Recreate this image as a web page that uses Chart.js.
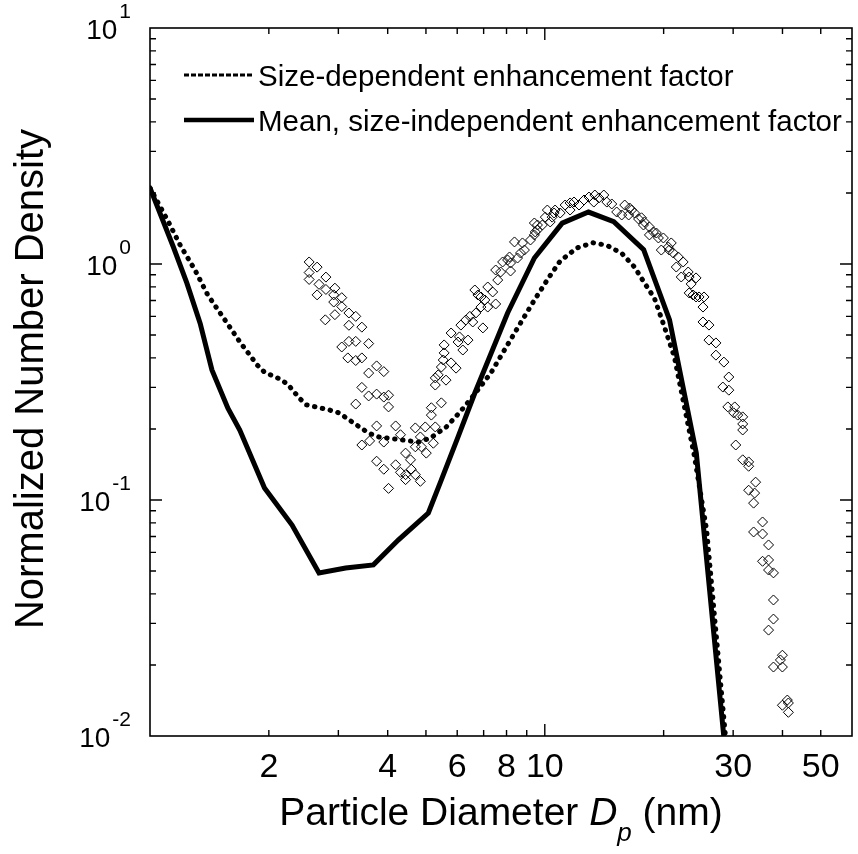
<!DOCTYPE html>
<html>
<head>
<meta charset="utf-8">
<script src="https://cdn.jsdelivr.net/npm/chart.js@4.4.1/dist/chart.umd.min.js"></script>
<style>
  html, body { margin: 0; padding: 0; background: #fff; }
  canvas { display: block; }
</style>
</head>
<body>
<canvas id="chart" width="858" height="854"></canvas>
<script>
const FONT = '"Liberation Sans", Arial, Helvetica, sans-serif';

// Size-dependent enhancement factor (dotted curve)
const sizeDepDiameters = [1.0, 1.113, 1.193, 1.30, 1.40, 1.53, 1.69, 1.87, 1.95, 2.13,
  2.23, 2.39, 2.49, 2.84, 3.01, 3.28, 3.58, 3.80, 4.78, 5.13,
  5.63, 6.10, 6.62, 7.30, 7.96, 8.68, 9.41, 10.26, 10.94, 12.07,
  13.24, 14.35, 15.66, 16.88, 17.89, 18.95, 20.1, 21.3, 23.9, 25.7,
  28.7, 29.2];
const sizeDepDensity = [2.1, 1.51, 1.20, 0.943, 0.74, 0.596, 0.467, 0.373, 0.348, 0.326,
  0.310, 0.270, 0.253, 0.241, 0.234, 0.212, 0.192, 0.185, 0.176, 0.183,
  0.204, 0.236, 0.279, 0.345, 0.441, 0.562, 0.703, 0.881, 1.03, 1.17,
  1.23, 1.20, 1.11, 0.97, 0.83, 0.717, 0.54, 0.403, 0.155, 0.0747,
  0.0099, 0.0079];

// Mean, size-independent enhancement factor (solid curve)
const meanDiameters = [1.0, 1.146, 1.24, 1.34, 1.435, 1.575, 1.688, 1.95, 2.29, 2.68,
  3.13, 3.68, 4.26, 5.07, 5.47, 6.03, 6.65, 8.05, 9.41, 11.07,
  12.9, 14.95, 17.8, 20.7, 24.2, 28.4, 29.4];
const meanDensity = [2.1, 1.18, 0.83, 0.56, 0.356, 0.245, 0.198, 0.1125, 0.0783, 0.0491,
  0.0515, 0.0531, 0.0678, 0.0881, 0.1216, 0.185, 0.284, 0.62, 1.06, 1.49,
  1.66, 1.51, 1.15, 0.58, 0.158, 0.0100, 0.0068];

// measured distribution (open diamonds)
const measuredDiameters = [
  2.53, 2.65, 2.53, 2.79, 2.53, 2.68, 2.79, 2.94, 2.65, 2.92,
  3.06, 2.92, 3.06, 3.19, 3.32, 2.78, 2.94, 3.19, 3.44, 3.19,
  3.32, 3.06, 3.58, 3.17, 3.32, 3.44, 3.58, 3.75, 3.91, 3.44,
  3.58, 3.75, 3.91, 4.02, 4.02, 3.32, 3.75, 4.19, 3.44, 3.60,
  3.91, 4.31, 3.75, 3.91, 4.19, 4.44, 4.02, 4.31, 4.44, 4.57,
  4.59, 4.44, 4.70, 4.84, 4.70, 4.84, 4.98, 5.28, 4.87, 4.70,
  5.01, 5.22, 5.16, 5.16, 5.47,
  5.28, 5.37, 5.28, 5.62, 5.47, 5.53, 5.79, 5.96, 5.56, 5.79,
  6.03, 5.56, 6.08, 6.39, 6.20, 6.13, 6.31, 6.46, 6.69, 6.57,
  6.97, 6.89, 6.65, 6.89, 7.17, 7.51, 7.17, 7.60, 7.73, 7.51,
  7.82, 8.14, 8.38, 8.05, 8.53, 8.88, 8.78, 9.20, 9.41, 9.46,
  9.86, 10.03, 6.77, 7.05, 7.38, 8.19, 8.68, 9.41, 9.58, 10.32, 8.19,
  9.58, 10.15, 10.44, 10.56, 10.62, 10.94, 11.26, 11.59, 11.59, 11.86,
  12.21, 12.57, 12.94, 13.31, 13.39, 13.71, 14.11, 14.36, 14.78, 15.21,
  15.66, 15.94, 16.40, 16.31, 16.59, 16.88, 17.28, 17.58, 17.88, 17.78,
  18.41, 18.41, 18.84, 19.17, 19.40, 19.97, 19.73, 20.55, 20.91, 20.67,
  21.16, 21.78, 21.53, 22.41, 22.16, 23.08, 23.21, 23.48, 24.16, 23.21,
  23.75, 24.16, 24.59, 25.31, 25.16, 25.16, 26.05, 26.05, 27.13, 27.13,
  28.42, 29.25, 28.25, 29.25, 29.08, 30.28, 30.10, 30.81, 31.72, 31.72,
  31.72, 30.46, 31.72, 32.84, 32.84, 34.20, 32.84, 34.0, 33.80, 35.61,
  33.80, 35.61, 36.88, 35.61, 36.88, 36.88, 37.95, 37.95, 37.95, 36.88,
  39.98, 39.52, 37.95, 39.98, 41.15, 39.98, 41.4, 41.4
];
const measuredDensity = [
  1.02, 0.97, 0.92, 0.88, 0.86, 0.82, 0.78, 0.79, 0.74, 0.74,
  0.72, 0.69, 0.66, 0.62, 0.60, 0.58, 0.61, 0.55, 0.54, 0.47,
  0.47, 0.445, 0.46, 0.40, 0.39, 0.40, 0.345, 0.37, 0.35, 0.30,
  0.276, 0.281, 0.273, 0.278, 0.248, 0.255, 0.206, 0.206, 0.171, 0.178,
  0.176, 0.189, 0.146, 0.135, 0.141, 0.158, 0.112, 0.131, 0.128, 0.148,
  0.135, 0.122, 0.128, 0.120, 0.202, 0.185, 0.204, 0.204, 0.168, 0.168,
  0.158, 0.174, 0.229, 0.246, 0.258,
  0.329, 0.339, 0.307, 0.322, 0.366, 0.392, 0.381, 0.362, 0.420, 0.510,
  0.467, 0.454, 0.491, 0.476, 0.432, 0.551, 0.579, 0.600, 0.620, 0.568,
  0.536, 0.657, 0.776, 0.725, 0.657, 0.677, 0.799, 0.855, 0.925, 0.943,
  1.020, 1.071, 1.240, 1.040, 1.060, 1.146, 1.228, 1.264, 1.492, 1.367,
  1.463, 1.580, 0.739, 0.704, 0.761, 0.934, 1.113, 1.328, 1.394, 1.507, 1.010,
  1.463, 1.693, 1.58, 1.645, 1.693, 1.645, 1.778, 1.693, 1.814, 1.831,
  1.778, 1.867, 1.922, 1.83, 1.96, 1.905, 1.96, 1.83, 1.796, 1.661,
  1.613, 1.778, 1.727, 1.613, 1.693, 1.645, 1.551, 1.57, 1.507, 1.463,
  1.435, 1.328, 1.367, 1.353, 1.289, 1.289, 1.146, 1.18, 1.228, 1.146,
  1.113, 1.071, 0.971, 1.02, 0.881, 0.925, 0.881, 0.823, 0.873, 0.754,
  0.739, 0.725, 0.725, 0.725, 0.657, 0.568, 0.551, 0.476, 0.463, 0.411,
  0.384, 0.332, 0.301, 0.292, 0.248, 0.248, 0.234, 0.229, 0.225, 0.210,
  0.198, 0.171, 0.148, 0.145, 0.139, 0.119, 0.110, 0.107, 0.097, 0.0807,
  0.0732, 0.0718, 0.0645, 0.055, 0.0557, 0.0505, 0.0491, 0.0377, 0.0313, 0.0281,
  0.022, 0.021, 0.0196, 0.0196, 0.0142, 0.0135, 0.0138, 0.0126
];

// axes
const xTickValues = [2, 4, 6, 8, 10, 30, 50];
const xMinorTicks = [2, 3, 4, 5, 6, 7, 8, 9, 20, 30, 40, 50];
const xMajorTicks = [10];
const yDecades = [0.01, 0.1, 1, 10];
const yExponents = ['-2', '-1', '0', '1'];

const legendItems = [
  { text: 'Size-dependent enhancement factor', dash: [5, 2], width: 3 },
  { text: 'Mean, size-independent enhancement factor', dash: [], width: 4.5 }
];

function toPoints(xs, ys) {
  return xs.map((x, i) => ({ x: x, y: ys[i] }));
}

// frame with inward ticks on all four sides, plus the texts the scales don't draw
const frameAndText = {
  id: 'frameAndText',
  afterDraw(chart) {
    const { ctx, chartArea: a, scales: { x, y } } = chart;
    ctx.save();
    ctx.strokeStyle = '#000';
    ctx.fillStyle = '#000';
    ctx.lineWidth = 1.6;
    ctx.setLineDash([]);
    ctx.strokeRect(a.left, a.top, a.right - a.left, a.bottom - a.top);

    const tickX = (v, len) => {
      const px = x.getPixelForValue(v);
      ctx.beginPath();
      ctx.moveTo(px, a.bottom); ctx.lineTo(px, a.bottom - len);
      ctx.moveTo(px, a.top); ctx.lineTo(px, a.top + len);
      ctx.stroke();
    };
    const tickY = (v, len) => {
      const py = y.getPixelForValue(v);
      ctx.beginPath();
      ctx.moveTo(a.left, py); ctx.lineTo(a.left + len, py);
      ctx.moveTo(a.right, py); ctx.lineTo(a.right - len, py);
      ctx.stroke();
    };
    ctx.lineWidth = 1.4;
    xMinorTicks.forEach(v => tickX(v, 6));
    xMajorTicks.forEach(v => tickX(v, 12));
    yDecades.forEach((d, i) => {
      if (i > 0 && i < yDecades.length - 1) tickY(d, 12);
      if (i < yDecades.length - 1) {
        for (let k = 2; k <= 9; k++) tickY(d * k, 6);
      }
    });

    // y tick labels as powers of ten
    ctx.textAlign = 'left';
    ctx.textBaseline = 'alphabetic';
    yDecades.forEach((v, i) => {
      const py = y.getPixelForValue(v);
      ctx.font = `28px ${FONT}`;
      const wb = ctx.measureText('10').width;
      ctx.font = `21px ${FONT}`;
      const ws = ctx.measureText(yExponents[i]).width;
      const x0 = a.left - 19 - ws - 2 - wb;
      ctx.font = `28px ${FONT}`;
      ctx.fillText('10', x0, py + 11);
      ctx.font = `21px ${FONT}`;
      ctx.fillText(yExponents[i], x0 + wb + 2, py - 10);
    });

    // x axis title with italic D and subscript p
    const parts = [
      { text: 'Particle Diameter ', font: `39px ${FONT}`, dy: 0 },
      { text: 'D', font: `italic 39px ${FONT}`, dy: 0 },
      { text: 'p', font: `italic 26px ${FONT}`, dy: 16 },
      { text: ' (nm)', font: `39px ${FONT}`, dy: 0 }
    ];
    let total = 0;
    parts.forEach(p => { ctx.font = p.font; p.w = ctx.measureText(p.text).width; total += p.w; });
    let cx = (a.left + a.right) / 2 - total / 2;
    parts.forEach(p => {
      ctx.font = p.font;
      ctx.fillText(p.text, cx, a.bottom + 89 + p.dy);
      cx += p.w;
    });

    // y axis title
    ctx.save();
    ctx.translate(43, (a.top + a.bottom) / 2 - 3);
    ctx.rotate(-Math.PI / 2);
    ctx.textAlign = 'center';
    ctx.font = `40px ${FONT}`;
    ctx.fillText('Normalized Number Density', 0, 0);
    ctx.restore();

    // legend
    ctx.font = `29.5px ${FONT}`;
    ctx.textAlign = 'left';
    legendItems.forEach((item, i) => {
      const ly = a.top + 47 + i * 45;
      ctx.lineWidth = item.width;
      ctx.lineCap = 'butt';
      ctx.setLineDash(item.dash);
      ctx.beginPath();
      ctx.moveTo(a.left + 34, ly);
      ctx.lineTo(a.left + 104, ly);
      ctx.stroke();
      ctx.setLineDash([]);
      ctx.fillText(item.text, a.left + 108, ly + 10.5);
    });
    ctx.restore();
  }
};

new Chart(document.getElementById('chart'), {
  type: 'scatter',
  data: {
    datasets: [
      {
        label: legendItems[0].text,
        data: toPoints(sizeDepDiameters, sizeDepDensity),
        showLine: true,
        borderColor: '#000',
        borderWidth: 5,
        borderDash: [0.5, 7.5],
        borderCapStyle: 'round',
        pointRadius: 0,
        fill: false
      },
      {
        label: legendItems[1].text,
        data: toPoints(meanDiameters, meanDensity),
        showLine: true,
        borderColor: '#000',
        borderWidth: 5,
        pointRadius: 0,
        fill: false
      },
      {
        label: 'Measured',
        data: toPoints(measuredDiameters, measuredDensity),
        showLine: false,
        pointStyle: 'rectRot',
        pointRadius: 5,
        borderWidth: 1,
        borderColor: '#000',
        backgroundColor: 'rgba(0,0,0,0)'
      }
    ]
  },
  options: {
    responsive: false,
    animation: false,
    devicePixelRatio: 1,
    layout: { padding: { top: 28, right: 1, bottom: 0, left: 0 } },
    plugins: {
      legend: { display: false },
      tooltip: { enabled: false }
    },
    scales: {
      x: {
        type: 'logarithmic',
        min: 1,
        max: 60,
        grid: { display: false, drawTicks: false },
        border: { display: false },
        afterBuildTicks: scale => { scale.ticks = xTickValues.map(v => ({ value: v })); },
        afterFit: scale => { scale.height = 118; },
        ticks: {
          autoSkip: false,
          maxRotation: 0,
          padding: 15,
          color: '#000',
          font: { family: FONT, size: 34, lineHeight: 1 },
          callback: v => String(v)
        }
      },
      y: {
        type: 'logarithmic',
        min: 0.01,
        max: 10,
        grid: { display: false, drawTicks: false },
        border: { display: false },
        afterBuildTicks: scale => { scale.ticks = yDecades.map(v => ({ value: v })); },
        afterFit: scale => { scale.width = 150; },
        ticks: { display: false }
      }
    }
  },
  plugins: [frameAndText]
});
</script>
</body>
</html>
